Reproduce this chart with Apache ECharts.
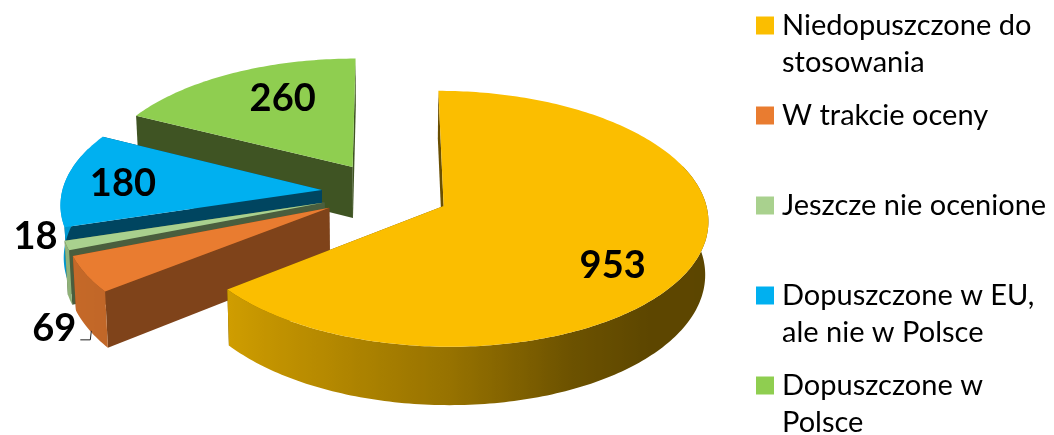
<!DOCTYPE html>
<html>
<head>
<meta charset="utf-8">
<style>html,body{margin:0;padding:0;background:#fff}#chart{width:1054px;height:435px}</style>
<script src="https://cdn.jsdelivr.net/npm/echarts@6/dist/echarts.min.js"></script>
</head>
<body>
<div id="chart"></div>
<script>
// Stan ocen: wartości kategorii
const categories = ['Niedopuszczone do\nstosowania', 'W trakcie oceny', 'Jeszcze nie ocenione', 'Dopuszczone w EU,\nale nie w Polsce', 'Dopuszczone w\nPolsce'];
const values = [953, 69, 18, 180, 260];

// Kolory wierzchu i ścian bocznych
const topColors = ['#FBBE00', '#E97C30', '#A9D18E', '#00B0F0', '#8FCE50'];
const wallColors = ['#6a4f00', '#7f431a', '#4a5e3e', '#004560', '#3f5423'];

// Przesunięcie etykiet względem wierzchołka wycinka
const labelOffsets = [[169, 60], [-275, 121], [-289, 34], [-199, -6], [-70, -68]];

// Rzut perspektywiczny płaszczyzny koła
const view = { x0: 385.5, y0: 192.5, rx: 260, ry: 124, persp: 0.099, depth: 52, taper: 0.01, explode: 0.246 };

// Jasność ściany zewnętrznej w zależności od kąta
const rimShade = [[0, .36], [135, .37], [155, .43], [180, .6], [205, .72], [232, .83], [250, .85], [270, .95], [360, .95]];

const total = values.reduce((a, b) => a + b, 0);
const rad = d => d * Math.PI / 180;

function project(u, v, h) {
  const s = 1 / (1 - view.persp * v);
  const x = view.x0 + view.rx * u * s;
  const y = view.y0 + view.ry * v * s + view.depth * s * h;
  return [view.x0 + (x - view.x0) * (1 - view.taper * h), y];
}

function shadeAt(t) {
  for (let i = 1; i < rimShade.length; i++) {
    if (t <= rimShade[i][0]) {
      const [a, fa] = rimShade[i - 1], [b, fb] = rimShade[i];
      return fa + (fb - fa) * (t - a) / (b - a);
    }
  }
  return 1;
}

function scaled(hex, f) {
  const n = parseInt(hex.slice(1), 16);
  const c = [n >> 16 & 255, n >> 8 & 255, n & 255].map(v => Math.round(v * f));
  return `rgb(${c[0]},${c[1]},${c[2]})`;
}

function sliceItem(index, start, api) {
  const sweep = api.value(0) / total * 360;
  const end = start + sweep;
  const mid = rad(start + sweep / 2);
  const au = view.explode * Math.sin(mid), av = -view.explode * Math.cos(mid);
  const rim = (t, h) => project(au + Math.sin(rad(t)), av - Math.cos(rad(t)), h);
  const apexTop = project(au, av, 0), apexBottom = project(au, av, 1);

  const angles = [];
  for (let t = start; t < end; t += 1) angles.push(t);
  angles.push(end);

  const children = [];
  // Ściany promieniowe: dalsza najpierw
  [start, end]
    .sort((a, b) => -Math.cos(rad(a)) + Math.cos(rad(b)))
    .forEach(t => children.push({
      type: 'polygon',
      shape: { points: [apexTop, rim(t, 0), rim(t, 1), apexBottom] },
      style: { fill: wallColors[index] }
    }));

  // Ściana zewnętrzna, tylko strona od patrzącego
  const front = angles.filter(t => t > 70 && t < 290);
  if (front.length > 1) {
    const xs = front.map(t => rim(t, 0)[0]);
    const lo = Math.min(...xs), hi = Math.max(...xs);
    const stops = front
      .filter(t => t >= 90 && t <= 270)
      .map(t => ({ offset: (rim(t, 0)[0] - lo) / Math.max(hi - lo, 1), color: scaled(topColors[index], shadeAt(t)) }))
      .sort((a, b) => a.offset - b.offset);
    children.push({
      type: 'polygon',
      shape: { points: front.map(t => rim(t, 0)).concat(front.slice().reverse().map(t => rim(t, 1))) },
      style: {
        fill: stops.length > 1
          ? { type: 'linear', x: lo, y: 0, x2: hi, y2: 0, global: true, colorStops: stops }
          : scaled(topColors[index], .9)
      }
    });
  }

  // Wierzch wycinka
  children.push({
    type: 'polygon',
    shape: { points: [apexTop].concat(angles.map(t => rim(t, 0))) },
    style: { fill: topColors[index] }
  });

  // Wartość
  const lx = apexTop[0] + labelOffsets[index][0], ly = apexTop[1] + labelOffsets[index][1];
  children.push({
    type: 'text',
    z2: 10,
    style: { text: String(api.value(0)), x: lx, y: ly, align: 'center', verticalAlign: 'middle', font: 'bold 38px Lato', fill: '#000' }
  });
  // Linia odniesienia przy małej wartości
  if (values[index] === 69) {
    children.push({
      type: 'polyline',
      z2: 10,
      shape: { points: [[lx + 26, ly + 11], [lx + 36, ly + 11], [lx + 37, ly + 2]] },
      style: { stroke: '#202020', lineWidth: 1, fill: null }
    });
  }
  return { type: 'group', children };
}

let cursor = 0;
const series = values.map((v, i) => {
  const start = cursor;
  cursor += v / total * 360;
  return {
    type: 'custom',
    name: categories[i],
    coordinateSystem: 'none',
    z: 5 - i,
    silent: true,
    itemStyle: { color: topColors[i] },
    data: [[v]],
    renderItem: (params, api) => sliceItem(i, start, api)
  };
});

const chart = echarts.init(document.getElementById('chart'), null, { renderer: 'canvas' });
chart.setOption({
  animation: false,
  backgroundColor: '#fff',
  legend: {
    orient: 'vertical',
    left: 756,
    top: -30,
    height: 800,
    padding: 0,
    itemWidth: 18,
    itemHeight: 18,
    itemGap: -21,
    selectedMode: false,
    icon: 'rect',
    itemStyle: { borderWidth: 0 },
    data: categories,
    formatter: n => n.indexOf('\n') >= 0 ? '\n' + n : '\n' + n + '\n ',
    textStyle: { fontFamily: 'Lato', fontSize: 29, lineHeight: 37, color: '#000', padding: [0, 0, 0, 3] }
  },
  series
});
</script>
</body>
</html>
